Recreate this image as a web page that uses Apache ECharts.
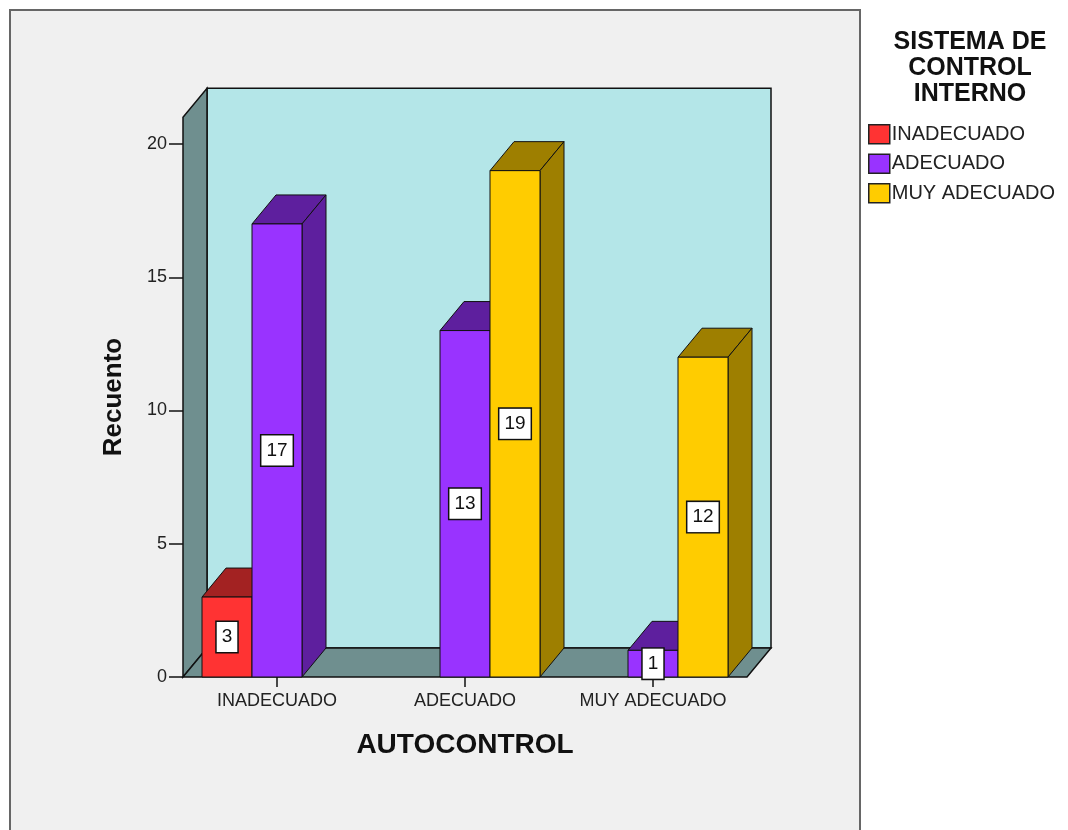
<!DOCTYPE html>
<html>
<head>
<meta charset="utf-8">
<script src="https://cdn.jsdelivr.net/npm/echarts@6/dist/echarts.min.js"></script>
<style>
  html, body { margin: 0; padding: 0; background: #fff; }
  #chart { width: 1068px; height: 830px; }
</style>
</head>
<body>
<div id="chart"></div>
<script>
const categories = ['INADECUADO', 'ADECUADO', 'MUY ADECUADO'];
const seriesNames = ['INADECUADO', 'ADECUADO', 'MUY ADECUADO'];
const inadecuado = [3, 0, 0];
const adecuado = [17, 13, 1];
const muyAdecuado = [0, 19, 12];
const yTicks = [0, 5, 10, 15, 20];

const seriesValues = [inadecuado, adecuado, muyAdecuado];
const frontColors = ['#ff3333', '#9933ff', '#ffcc00'];
const darkColors = ['#a32222', '#5e1f9e', '#9e7f00'];
const FONT = 'Liberation Sans, Arial, sans-serif';
const DX = 24, DY = 29;       // depth offset of the 3D look
const WALL_MAX = 21;          // height of the walls in data units
const BAR_FRAC = 50 / 188;    // bar width as part of a category band

const chart = echarts.init(document.getElementById('chart'));

function renderWalls(params, api) {
  const cs = params.coordSys;
  const x0 = cs.x, x1 = cs.x + cs.width;
  const y0 = api.coord([0, 0])[1];
  const unit = api.size([0, 1])[1];
  const yt = y0 - WALL_MAX * unit;
  const line = { stroke: '#111', lineWidth: 1.5 };
  return {
    type: 'group',
    children: [
      { type: 'polygon', shape: { points: [[x0 + DX, yt - DY], [x1 + DX, yt - DY], [x1 + DX, y0 - DY], [x0 + DX, y0 - DY]] },
        style: Object.assign({ fill: '#b4e6e8' }, line) },
      { type: 'polygon', shape: { points: [[x0, yt], [x0 + DX, yt - DY], [x0 + DX, y0 - DY], [x0, y0]] },
        style: Object.assign({ fill: '#6f8f8f' }, line) },
      { type: 'polygon', shape: { points: [[x0, y0], [x1, y0], [x1 + DX, y0 - DY], [x0 + DX, y0 - DY]] },
        style: Object.assign({ fill: '#6f8f8f' }, line) }
    ]
  };
}

function makeBarRenderer(s) {
  return function (params, api) {
    const val = api.value(1);
    if (!val) return null;
    const base = api.coord([api.value(0), 0]);
    const top = api.coord([api.value(0), val]);
    const band = api.size([1, 0])[0];
    const w = band * BAR_FRAC;
    const x = base[0] + (s - 1.5) * w;
    const y0 = base[1], yt = top[1];
    const line = { stroke: '#111', lineWidth: 1 };
    return {
      type: 'group',
      children: [
        { type: 'polygon', shape: { points: [[x, yt], [x + DX, yt - DY], [x + w + DX, yt - DY], [x + w, yt]] },
          style: Object.assign({ fill: darkColors[s] }, line) },
        { type: 'polygon', shape: { points: [[x + w, yt], [x + w + DX, yt - DY], [x + w + DX, y0 - DY], [x + w, y0]] },
          style: Object.assign({ fill: darkColors[s] }, line) },
        { type: 'rect', shape: { x: x, y: yt, width: w, height: y0 - yt },
          style: Object.assign({ fill: frontColors[s] }, line) },
        { type: 'text', x: x + w / 2, y: (yt + y0) / 2,
          style: { text: String(val), fill: '#111', font: '19px ' + FONT, align: 'center', verticalAlign: 'middle',
                   backgroundColor: '#fff', borderColor: '#111', borderWidth: 1.5, padding: [6, 5, 5, 5] } }
      ]
    };
  };
}

const series = [{
  type: 'custom',
  name: '_walls',
  renderItem: renderWalls,
  data: [[0, 0]],
  clip: false,
  silent: true,
  z: 1
}];
seriesNames.forEach(function (name, s) {
  series.push({
    type: 'custom',
    name: name,
    renderItem: makeBarRenderer(s),
    itemStyle: { color: frontColors[s] },
    data: seriesValues[s].map(function (v, i) { return [i, v]; }),
    clip: false,
    z: 2 + s
  });
});

const option = {
  animation: false,
  backgroundColor: '#ffffff',
  graphic: [{
    type: 'rect',
    z: -10,
    shape: { x: 10, y: 10, width: 850, height: 840 },
    style: { fill: '#f0f0f0', stroke: '#666', lineWidth: 2 }
  }, {
    type: 'text',
    x: 114, y: 397,
    rotation: Math.PI / 2,
    style: { text: 'Recuento', font: 'bold 26px ' + FONT, fill: '#111', align: 'center', verticalAlign: 'middle' }
  }],
  title: {
    text: 'SISTEMA DE\nCONTROL\nINTERNO',
    left: 965, top: 24, textAlign: 'center',
    textStyle: { fontFamily: FONT, fontWeight: 'bold', fontSize: 25, lineHeight: 26, color: '#111' }
  },
  legend: {
    data: seriesNames,
    orient: 'vertical',
    left: 863, top: 119,
    itemWidth: 21, itemHeight: 19, itemGap: 9,
    icon: 'rect',
    itemStyle: { borderColor: '#222', borderWidth: 1.5 },
    textStyle: { fontFamily: FONT, fontSize: 20, color: '#222', padding: [0, 0, 0, -3] }
  },
  grid: { left: 183, top: 144, width: 564, height: 533 },
  xAxis: {
    type: 'category',
    data: categories,
    name: 'AUTOCONTROL',
    nameLocation: 'middle',
    nameGap: 54,
    nameTextStyle: { fontFamily: FONT, fontWeight: 'bold', fontSize: 28, color: '#111' },
    axisLine: { show: false },
    axisTick: { show: true, alignWithLabel: true, length: 10, lineStyle: { color: '#111', width: 1.5 } },
    axisLabel: { interval: 0, fontFamily: FONT, fontSize: 18, color: '#222', margin: 15 },
    splitLine: { show: false }
  },
  yAxis: {
    type: 'value',
    min: 0, max: 20, interval: 5,
    axisLine: { show: false },
    axisTick: { show: true, length: 14, lineStyle: { color: '#111', width: 1.5 } },
    axisLabel: {
      fontFamily: FONT, fontSize: 18, color: '#222', margin: 16,
      formatter: function (v) { return yTicks.indexOf(v) >= 0 ? String(v) : ''; }
    },
    splitLine: { show: false }
  },
  series: series
};

chart.setOption(option);
</script>
</body>
</html>
